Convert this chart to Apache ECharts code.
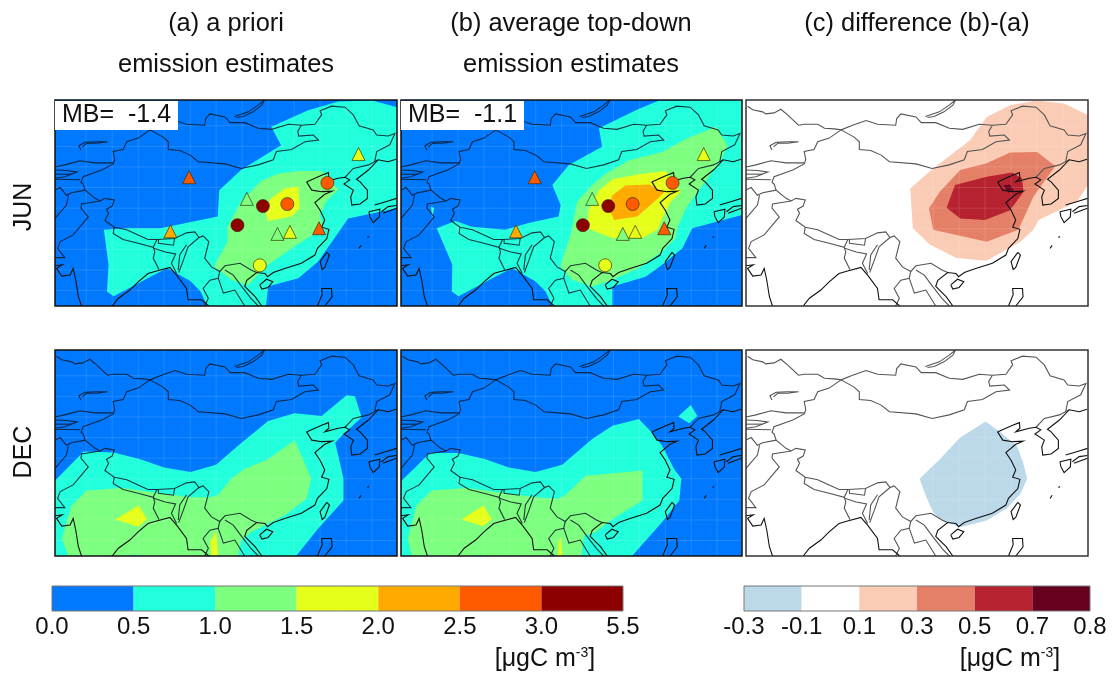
<!DOCTYPE html>
<html><head><meta charset="utf-8">
<style>html,body{margin:0;padding:0;background:#fff}#c{width:1115px;height:677px;filter:blur(0.45px)}</style>
<script src="https://cdn.jsdelivr.net/npm/echarts@6/dist/echarts.min.js"></script>
</head><body><div id="c"></div>
<script>
// ---------- colour scales ----------
const concTicks=['0.0','0.5','1.0','1.5','2.0','2.5','3.0','5.5'];
const concColors=['#0079ff','#22ffdc','#7dff80','#e6ff1a','#ffaa00','#ff5a00','#8c0000'];
const diffTicks=['-0.3','-0.1','0.1','0.3','0.5','0.7','0.8'];
const diffColors=['#bcd9ea','#ffffff','#fbccb5','#e58068','#b72230','#67001f'];
// ---------- map lines [lon,lat] ----------
const coastLines=[
 [[117.4,39.1],[118.4,37.5],[120.3,37.2],[122.3,37.3],[120.9,36.7],[119,35.1],[120,33.6],[120.9,31.7],[120.3,30.3],[121.7,29.9],[121.3,28.1],[119.5,26.2],[119,24.9],[116.4,23.3],[113.2,22.3],[111,21.5],[109.9,20.7],[109.4,21.3],[107.8,21.5],[105.9,20],[105.5,18.8],[107.5,16.8],[108.8,15]],
 [[117.4,39.1],[119,39.8],[120.3,40.4],[121.6,40.9],[121.7,39.8],[120.9,39.1],[123.5,39.8],[124.8,40],[125.7,39.5],[124.6,38.7],[126.4,37.5],[125.9,36.2],[126.1,34.6],[127.7,34.8],[129.1,35.9],[129.1,37.5],[127.7,39.1],[127,39.6],[129.3,41.4],[131.2,43.4],[133.1,43],[134.6,43.5]],
 [[108.4,19.1],[109.7,20.2],[110.9,19.7],[110,18.6],[108.8,18.3],[108.4,19.1]],
 [[121.3,25.4],[121.8,24.9],[120.9,22.5],[120.4,22.1],[120,23.6],[121.3,25.4]],
 [[119.5,15],[120.4,17.2],[120.3,18.4],[122.2,18.4],[122.3,16.8],[120.9,15]],
 [[127.5,26.2],[127.9,26.8]],[[129.1,28.3],[129.4,28.5]],
 [[129.4,33.3],[131.5,33.8],[131.4,32.3],[130.2,31.2],[129.6,32.3],[129.4,33.3]],
 [[130.5,34.6],[133.1,35.4],[134.7,35.9]],[[131.8,33.3],[133.1,34.3],[134.7,34.5]],[[132.1,33],[134.7,34]],
 [[69,22.8],[70.4,23],[69.3,22.3],[70.3,20.8],[71.9,21],[72.5,22.3],[73,20],[73.5,16.8],[74.1,15]],
 [[80,15],[81.2,16.5],[83.4,18.1],[85,19.7],[86.9,21.3],[88.2,21.7],[91.1,22.5],[92.4,21],[94.3,18.4],[94.6,16.2],[97.2,16.2],[98.6,15]]
];
const borderLines=[
 [[69.3,53.8],[70.3,53.1],[72.2,52.7],[72.8,52.3],[74.4,52.5],[75.7,53.2],[77,52.1],[79.1,50.1],[80.2,50.3],[82.8,50.3],[84.1,49.5],[86,49.4],[87.3,49.2],[89.5,50.1],[92.1,51],[94.3,50.3],[97.8,50.1],[98,51.4],[98.8,52.3],[101.7,51.7],[102.7,50.6],[105.5,50.6],[108.1,49.5],[110.7,49.3],[113.9,50.3],[116.4,50.1],[119,50.3],[120.3,52.1],[120,52.9],[122.2,53.8],[124.8,53.6],[126.4,52.1],[127.5,50],[130.2,49.2],[130.9,48.2],[133.1,48],[134.4,48.5],[133.4,46.3],[130.9,45],[130.5,43]],
 [[87.3,49.2],[89.8,47.8],[90.8,46.9],[90.8,45.4],[93,45.2],[95,44.3],[96.6,43],[101.7,42.6],[104.8,41.7],[108.1,42.4],[111,43.4],[111.6,45],[114.5,45.4],[117.1,46.9],[119.7,47.2],[118.7,48.2],[115.9,48],[115.7,48.9],[116.4,50.1]],
 [[87.3,49.2],[85,47.6],[82.8,46.9],[82.1,45.4],[80.2,45],[80.5,43.4],[80.2,42.6],[78,41.4],[74.4,40.1],[74,39],[74.4,38.7],[74.8,37.5],[76.7,35.9],[77.7,35.4],[78.6,35.9],[80.4,35.6],[80,34.4],[78.9,33.8],[79.3,33],[78.6,31.6],[80.4,30.3],[82.8,29.8],[85,28.8],[86.9,27.9],[88.6,27.9],[92,28.1],[94.3,29.2],[95.9,29.4],[96.7,28.3],[97.5,28.6],[98.6,27.5],[97.8,24.3],[99.1,22.6],[100.7,21.7],[101.7,22.8],[104.6,23.3],[106.7,22],[107.8,21.5]],
 [[69,42],[70.9,42.4],[73.8,43.2],[76.7,42.8],[80.2,42.8]],
 [[69,41.4],[71.2,41.3],[73.2,41],[70.9,40.1],[69,39.8]],
 [[69,40.6],[72.2,40.6]],[[69,39.6],[73.8,39.5]],
 [[69,37.5],[70,38],[71.2,36.5],[72.2,37],[74.8,37.5]],
 [[69,32],[71.2,34.6],[71.6,36.5]],
 [[80.4,30.3],[80.2,29.1],[82.1,27.9],[85,27.2],[87.9,26.4],[88.6,27.9]],
 [[88.9,27.9],[88.9,27.2],[91.8,26.8],[92,28.1]],
 [[87.9,26.4],[88.2,25.5],[87.9,24.3],[89,22.1]],
 [[88,26.2],[90.2,25.5],[92.2,25.1],[91.4,23.3],[92.4,21.3]],
 [[94.3,26.9],[93,24.9],[92.7,22]],
 [[96.7,28.3],[94.6,26.5],[93.7,23.9],[92.8,21.5]],
 [[77.7,35.4],[74.1,34.8],[74,34],[75.4,32.3],[72.5,28.8],[70,27.5],[69.5,26.2],[70.9,24.4],[69,24.4]],
 [[100.7,21.7],[100.4,20.4],[98.8,20],[97.5,18.4],[98.5,16.5],[97.8,15]],
 [[100.4,20.4],[101.4,17.5],[103.6,18.1],[105.5,15]],
 [[101.7,22],[103.3,21],[104.9,18.8],[106.7,16.5],[108.1,15]],
 [[124.8,40],[126.4,41.7],[129.3,42.4],[131.2,43.4]],
 [[103.5,51.8],[106.2,52.7],[108.1,54],[109.3,55],[108.8,54],[107.1,52.7],[105.2,51.8],[103.9,51.6]],
 [[74,45.3],[73.6,46.1],[74.8,46.8],[77,46.9],[79.1,46.9],[77,46.6],[75.1,46.6],[74.3,45.9]]
];
// ---------- reticle ----------
const gridLons=[75,80,85,90,95,100,105,110,115,120,125,130];
const gridLats=[18,22,26,30,34,38,42,46,50];
// ---------- filled contours [lon,lat] ----------
const junA05=[[123.5,54.7],[130,54.9],[134.8,53.6],[135,34],[125.4,32],[123.2,28.8],[119.6,23.6],[115.8,20.4],[110,18.8],[109.6,15],[98.3,15],[97,17.8],[95.1,19.8],[90.6,22.4],[80.3,16.9],[79,17.8],[79.3,23],[78.4,29.8],[82.9,30.1],[89.3,30.1],[100.3,32.4],[100.6,37.5],[104.8,41.4],[112.5,46.2],[110.6,49.8],[117.7,53]];
const junA10=[[115.8,41.2],[120.3,41.2],[122.2,39],[123.5,37.6],[121.2,35.3],[119.9,32.7],[120.6,30.1],[115.1,26.6],[110,23],[106.1,19.1],[102.9,20.1],[99.6,22.7],[102.2,27.5],[102.2,30.4],[104.8,35.3],[108.7,39.3],[111.9,40.7]];
const junA15=[[113.2,37.8],[115.8,38.2],[116.1,34],[114.5,32.4],[110,31.5],[109.3,34],[110.6,35.9]];
const junB05=[[107.2,49.5],[114.3,53],[118.8,54.9],[135,55],[135,32.7],[125.2,30.1],[123.3,26.2],[119.4,23],[116.2,20.7],[109.8,18.8],[109.8,15],[98.2,15],[96.9,17.8],[94.9,19.8],[90.4,22.4],[80.1,16.9],[78.8,17.8],[78.9,23],[75.9,30.1],[79.5,31.5],[82.7,30.4],[89.1,29.8],[93.6,31.1],[99.4,32.4],[99.8,34.6],[98.2,38.5],[101.4,42.4],[107.8,45.9]];
const junB05spot=[[74.8,34.3],[75.4,34],[75,32]];
const junB10=[[122.3,30.1],[122,28.2],[119.4,25.6],[114.9,22.4],[109.8,20.1],[105.9,18.8],[102,20.1],[99.8,22.7],[100.4,24.9],[101.7,28.8],[103,35.3],[105.9,38.5],[108.5,40.7],[113,43.3],[119.4,44.9],[124,47.5],[129.8,49.8],[132,46.2],[130.7,43.3],[126.5,37.5],[124,34]];
const junB15=[[120.1,41.2],[121.7,39],[123,37.2],[121.1,35.3],[119.4,32],[118.5,29.8],[115.6,28.2],[109.8,28.2],[104.9,30.1],[105.2,33.6],[107.2,37.5],[109.8,39.6],[114.9,40.6]];
const junB20=[[109.8,36.5],[112.3,38.4],[116.9,38.6],[119.8,37.1],[117.5,34.9],[114.6,32.4],[110.1,31.7],[109,34.3]];
const decA05=[[125.1,46.2],[126.7,46],[128,41.9],[124.8,39],[122.9,37],[123.5,34.5],[124.5,30],[124.5,25.8],[119.6,20.3],[115.4,15],[69,15],[69,29.6],[74.5,35.3],[80.3,35.1],[85.4,33.8],[90,32.2],[95.1,31.3],[100,32.7],[104.2,36.4],[110,41.2],[115.1,42.7],[120.3,42.2]];
const decA10=[[75.1,27.7],[81.9,28.2],[95.1,26.4],[98.7,26.4],[100.3,26.8],[102.9,30],[105.4,31.9],[110,33.8],[115.1,37.5],[116.7,33.8],[118.3,30],[117.4,26.1],[113.2,22.9],[110,21.3],[106.7,19.6],[104.8,18],[104.2,15],[85.4,15],[84.5,15.3],[82.9,15],[71.6,15],[70.3,18.4],[72.2,24.8]];
const decA15a=[[80.6,22.1],[85.1,24.8],[86.7,22.2],[85.1,20.7]];
const decA15b=[[98.9,17.7],[100,19.8],[100.4,15],[99.1,15]];
const decB05=[[69.1,29.6],[74.6,35],[80.1,35],[85.3,33.8],[89.8,32.2],[95,31.3],[100.1,32.7],[105.9,37.7],[109.8,40.3],[114.9,41.6],[117.5,38.9],[119.4,36.4],[121.7,31.9],[123.1,30],[122.7,25.8],[119.4,21.6],[113.6,15],[69,15]];
const decB05spot=[[122.5,42.1],[124.9,44.3],[126.2,42.2],[124.6,40.8]];
const decB10=[[74.9,27.7],[81.7,28.2],[95,26.4],[99.4,26.1],[100.7,26.8],[104.6,30.6],[115.6,31.6],[115.6,25.8],[109.8,22.2],[106.5,19.6],[104.3,19],[103.8,15],[85.3,15],[84.3,15.3],[82.7,15],[71.1,15],[70.3,18.4],[72,24.8]];
const decB15a=[[80.7,22.1],[84.9,24.8],[86.5,22.2],[84.9,20.8]];
const decB15b=[[99.4,17.7],[99.8,18.7],[100.1,15],[99.3,15]];
const junC01=[[119.8,54],[125,54.9],[130.2,54.3],[135,52],[135,38.8],[132.7,35.3],[125.3,31.7],[124.3,29.8],[121.8,27.5],[115.3,23.8],[109.5,24.3],[104.4,26.9],[101.1,30.1],[100.6,37.8],[105,41.7],[112.1,47.2],[115.3,51.7]];
const junC03=[[119.8,44.8],[125,44.9],[128.5,42.2],[124.3,36.2],[122.4,32],[121.4,29.8],[115.3,27.5],[105,29.8],[104.2,34],[106.3,37.2],[110.2,41.4],[115.3,42.7]];
const junC05=[[120.2,40.9],[122.1,39.8],[122.4,37.2],[119.8,33.6],[115,31.7],[110.2,32],[107.6,34.1],[109.2,38.5],[115.3,40.1]];
const junC07=[[118.5,38.4],[119.8,38.6],[120.5,37.5],[119.5,37]];
const decCneg=[[115.1,41.1],[117.6,39.3],[121.1,36.4],[122.3,33.2],[123.1,30],[121.8,27.1],[119.2,24.2],[115.3,21.9],[110.2,20.6],[106.6,21.9],[105,23.5],[103.7,26.4],[102.4,30],[106.3,33.8],[110.2,38]];
// ---------- observation sites [lon,lat] with colour-bin index ----------
const triangleSites=[[94.8,40],[91.2,29.5],[105.9,35.8],[111.8,29],[114.2,29.4],[119.8,30.1],[127.4,44.5]];
const triangleBins=[5,4,2,2,3,5,3];
const circleSites=[[109,34.4],[104.1,30.7],[113.7,34.8],[121.4,38.9],[108.4,22.9]];
const circleBins=[6,6,5,5,3];
// ---------- text ----------
const columnTitles=[['(a) a priori','emission estimates'],['(b) average top-down','emission estimates'],['(c) difference (b)-(a)']];
const rowTitles=['JUN','DEC'];
const mbLabels=['MB=  -1.4','MB=  -1.1'];

const FONT='"Liberation Sans",Arial,sans-serif';
const LON=[69,134.8],LAT=[15,55];
const panelsPx=[
 [55,100,342,206],[401,100,341,206],[746,100,342,206],
 [55,350,342,206],[401,350,341,206],[746,350,342,206]];
const fills=[
 [[junA05,1],[junA10,2],[junA15,3]],
 [[junB05,1],[junB05spot,1],[junB10,2],[junB15,3],[junB20,4]],
 [[junC01,2],[junC03,3],[junC05,4],[junC07,5]],
 [[decA05,1],[decA10,2],[decA15a,3],[decA15b,3]],
 [[decB05,1],[decB05spot,1],[decB10,2],[decB15a,3],[decB15b,3]],
 [[decCneg,0]]
];
const grid=[],xAxis=[],yAxis=[],series=[];
panelsPx.forEach((p,i)=>{
 const diff=i%3===2;
 grid.push({left:p[0],top:p[1],width:p[2],height:p[3],show:true,backgroundColor:diff?'#fff':concColors[0],borderWidth:0});
 xAxis.push({type:'value',gridIndex:i,min:LON[0],max:LON[1],show:false});
 yAxis.push({type:'value',gridIndex:i,min:LAT[0],max:LAT[1],show:false});
 const pal=diff?diffColors:concColors;
 series.push({type:'custom',xAxisIndex:i,yAxisIndex:i,clip:true,silent:true,z:2,
  data:fills[i].map(f=>f[0][0]),
  renderItem:(pa,api)=>{const f=fills[i][pa.dataIndex];
   return{type:'polygon',shape:{points:f[0].map(q=>api.coord(q))},style:{fill:pal[f[1]]}};}});
 const rule=[...gridLons.map(v=>[[v,LAT[0]],[v,LAT[1]]]),...gridLats.map(v=>[[LON[0],v],[LON[1],v]])];
 series.push({type:'custom',xAxisIndex:i,yAxisIndex:i,clip:true,silent:true,z:3,
  data:rule.map(r=>r[0]),
  renderItem:(pa,api)=>({type:'polyline',shape:{points:rule[pa.dataIndex].map(q=>api.coord(q))},style:{fill:null,stroke:'rgba(255,255,255,0.12)',lineWidth:1}})});
 const lines=[...borderLines.map(l=>[l,0]),...coastLines.map(l=>[l,1])];
 series.push({type:'custom',xAxisIndex:i,yAxisIndex:i,clip:true,silent:true,z:4,
  data:lines.map(l=>l[0][0]),
  renderItem:(pa,api)=>{const l=lines[pa.dataIndex];
   return{type:'polyline',shape:{points:l[0].map(q=>api.coord(q))},
    style:{fill:null,stroke:l[1]?'#111':(diff?'#555':'rgba(15,25,40,0.85)'),lineWidth:1.1}};}});
 series.push({type:'custom',xAxisIndex:i,yAxisIndex:i,silent:true,z:9,data:[[LON[0],LAT[0]]],
  renderItem:(pa,api)=>{const a=api.coord([LON[0],LAT[1]]),b=api.coord([LON[1],LAT[0]]);
   return{type:'rect',shape:{x:a[0],y:a[1],width:b[0]-a[0],height:b[1]-a[1]},style:{fill:null,stroke:diff?'#333':'#111',lineWidth:1.5}};}});
 if(i<2){
  const mk=(sites,bins,sym,size)=>({type:'scatter',xAxisIndex:i,yAxisIndex:i,symbol:sym,symbolSize:size,z:6,silent:true,
   data:sites.map((s,k)=>({value:s,itemStyle:{color:concColors[bins[k]],borderColor:'rgba(50,40,0,0.65)',borderWidth:1,opacity:1}}))});
  series.push(mk(triangleSites,triangleBins,'triangle',13),mk(circleSites,circleBins,'circle',13));
 }
});
// colour bars
[[52,586,571,25,concTicks,concColors],[744,586,346,25,diffTicks,diffColors]].forEach((b,k)=>{
 const gi=6+k,n=b[5].length;
 grid.push({left:b[0],top:b[1],width:b[2],height:b[3],borderWidth:0,show:false});
 xAxis.push({type:'value',gridIndex:gi,min:0,max:n,interval:1,axisLine:{show:false},axisTick:{show:false},splitLine:{show:false},
  axisLabel:{show:true,margin:4,fontFamily:FONT,fontSize:24,color:'#111',showMinLabel:true,showMaxLabel:true,hideOverlap:false,formatter:v=>b[4][v]}});
 yAxis.push({type:'value',gridIndex:gi,min:0,max:1,show:false});
 series.push({type:'custom',xAxisIndex:gi,yAxisIndex:gi,silent:true,z:2,data:b[5].map((c,i)=>[i,0]),
  renderItem:(pa,api)=>{const a=api.coord([pa.dataIndex,1]),e=api.coord([pa.dataIndex+1,0]);
   return{type:'rect',shape:{x:a[0],y:a[1],width:e[0]-a[0],height:e[1]-a[1]},style:{fill:b[5][pa.dataIndex]}};}});
 series.push({type:'custom',xAxisIndex:gi,yAxisIndex:gi,silent:true,z:3,data:[[0,0]],
  renderItem:(pa,api)=>{const a=api.coord([0,1]),e=api.coord([n,0]);
   return{type:'rect',shape:{x:a[0],y:a[1],width:e[0]-a[0],height:e[1]-a[1]},style:{fill:null,stroke:'#777',lineWidth:1}};}});
});
// text
const titles=[];
const tx=(text,left,top,extra)=>titles.push(Object.assign({text,left,top,textAlign:'center',textVerticalAlign:'middle',padding:0,
 textStyle:{fontFamily:FONT,fontSize:25.4,fontWeight:'normal',color:'#111'}},extra||{}));
[226,571,917].forEach((x,i)=>columnTitles[i].forEach((t,j)=>tx(t,x,j?65:24)));
const unit=(x)=>tx('{a|[μgC m}{s|-3}{a|]}',x,659,{textStyle:{rich:{a:{fontFamily:FONT,fontSize:25,fontWeight:'normal',color:'#111'},s:{fontFamily:FONT,fontSize:14,fontWeight:'normal',color:'#111',verticalAlign:'top',padding:[0,0,8,0]}}}});
unit(545);unit(1010);
const graphic=[];
rowTitles.forEach((t,i)=>graphic.push({type:'text',x:24,y:i?452:207,rotation:Math.PI/2,z:20,
 style:{text:t,font:'25px '+FONT,fill:'#111',textAlign:'center',textVerticalAlign:'middle'}}));
[[55,101],[401,101]].forEach((p,i)=>{
 graphic.push({type:'rect',x:p[0],y:p[1],shape:{x:0,y:0,width:123,height:29},style:{fill:'#fff'},z:20});
 graphic.push({type:'text',x:p[0]+7,y:p[1]+14,z:21,style:{text:mbLabels[i],font:'25px '+FONT,fill:'#111',textAlign:'left',textVerticalAlign:'middle'}});
});
echarts.init(document.getElementById('c')).setOption({animation:false,backgroundColor:'#fff',title:titles,grid,xAxis,yAxis,series,graphic});
</script></body></html>
